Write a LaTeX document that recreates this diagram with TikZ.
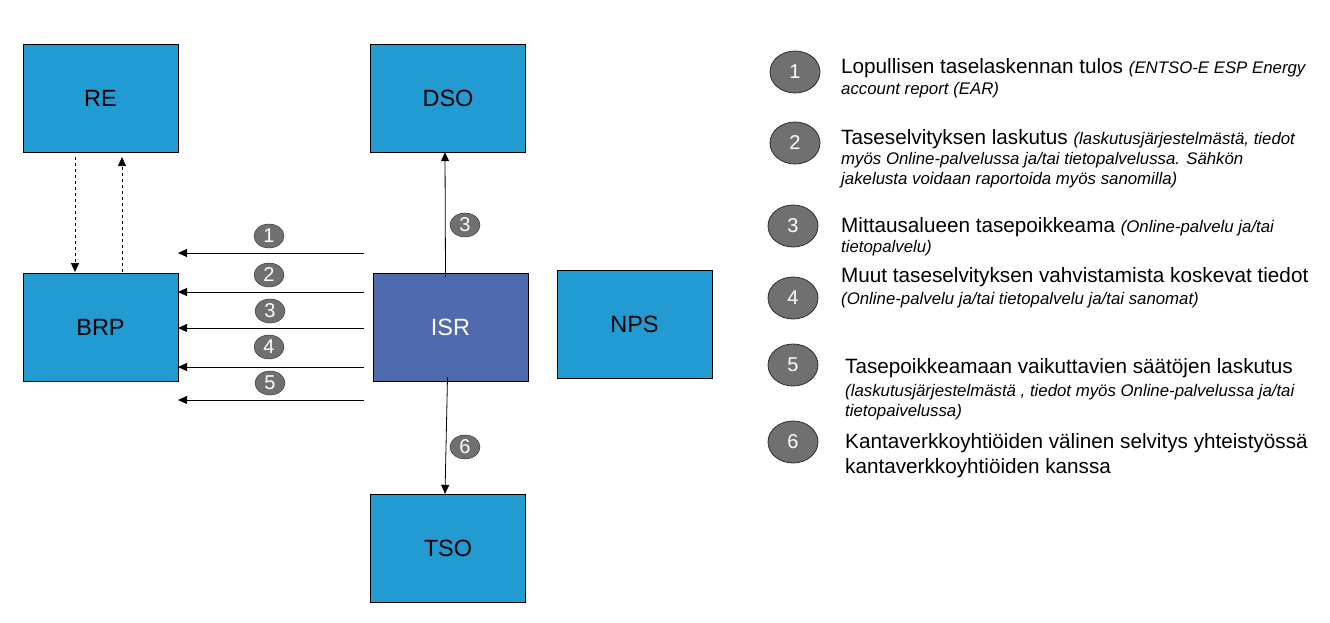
\documentclass[tikz,border=0pt]{standalone}
\usepackage{fontspec}
\setmainfont{Liberation Sans}
\usetikzlibrary{arrows.meta,shapes.geometric}
\definecolor{boxblue}{RGB}{33,155,210}
\definecolor{isrblue}{RGB}{80,106,176}
\definecolor{numgray}{RGB}{112,112,112}
\definecolor{numedge}{RGB}{45,45,45}
\tikzset{
  box/.style={draw=black, fill=boxblue, minimum width=155pt, minimum height=108pt, inner sep=0pt, font=\fontsize{23.5}{26}\selectfont},
  arr/.style={-{Triangle[width=8pt,length=9pt]}, line width=0.9pt},
  darr/.style={arr, dashed, line width=0.7pt},
  varr/.style={arr, line width=0.8pt},
  smallnum/.style={ellipse, draw=numedge, fill=numgray, minimum width=30pt, minimum height=24pt, inner sep=0pt, text=white, font=\fontsize{20}{20}\selectfont},
  bignum/.style={ellipse, draw=numedge, line width=0.8pt, fill=numgray, minimum width=50pt, minimum height=42pt, inner sep=0pt, text=white, font=\fontsize{20}{20}\selectfont},
  legend/.style={anchor=north west, align=left, inner sep=0pt, font=\fontsize{20.7}{25}\selectfont},
}
\newcommand{\smalli}[1]{{\itshape\fontsize{16.8}{20}\selectfont #1}}
\begin{document}
\begin{tikzpicture}[x=1pt,y=-1pt]
\useasboundingbox (0,0) rectangle (1330,622);
% boxes
\node[box] (RE) at (100.5,98) {RE};
\node[box] (DSO) at (448,98) {DSO};
\node[box] (BRP) at (100.5,327.5) {BRP};
\node[box, fill=isrblue, text=white] (ISR) at (450.5,327) {ISR};
\node[box] (NPS) at (634.5,324.5) {NPS};
\node[box] (TSO) at (448,548) {TSO};
% dashed arrows RE <-> BRP
\coordinate (d1s) at (75,157);
\coordinate (d1e) at (75,272);
\coordinate (d2s) at (122,272);
\coordinate (d2e) at (122,157);
\draw[darr] (d1s) -- (d1e);
\draw[darr] (d2s) -- (d2e);
% horizontal arrows ISR -> BRP
\foreach \i/\y in {1/253,2/292,3/328,4/367,5/400}{
  \coordinate (h\i s) at (364,\y);
  \coordinate (h\i e) at (178,\y);
  \draw[arr] (h\i s) -- (h\i e);
}
\node[smallnum] (n1) at (269,236) {1};
\node[smallnum] (n2) at (269,275) {2};
\node[smallnum] (n3) at (270,311) {3};
\node[smallnum] (n4) at (269,347) {4};
\node[smallnum] (n5) at (270,383) {5};
% vertical arrows
\draw[varr] ([xshift=-5pt,yshift=-4pt]ISR.north) -- ([xshift=-3pt]DSO.south);
\node[smallnum] (n3b) at (465,225) {3};
\draw[varr] ([xshift=-3pt,yshift=4pt]ISR.south) -- ([xshift=-3pt]TSO.north);
\node[smallnum] (n6) at (465,447) {6};
% legend
\node[bignum] (L1) at (795,72) {1};
\node[bignum] (L2) at (795,143) {2};
\node[bignum] (L3) at (793,226) {3};
\node[bignum] (L4) at (793,298) {4};
\node[bignum] (L5) at (793,365) {5};
\node[bignum] (L6) at (793,442) {6};
\node[legend] (T1) at (841,58.5) {Lopullisen taselaskennan tulos \smalli{(ENTSO-E ESP Energy}\\[-4pt]\smalli{account report (EAR)}};
\node[legend] (T2) at (841,129.5) {Taseselvityksen laskutus \smalli{(laskutusjärjestelmästä, tiedot}\\[-5pt]\smalli{myös Online-palvelussa ja/tai tietopalvelussa. Sähkön}\\[-5pt]\smalli{jakelusta voidaan raportoida myös sanomilla)}};
\node[legend] (T3) at (841,217.5) {Mittausalueen tasepoikkeama \smalli{(Online-palvelu ja/tai}\\[-5pt]\smalli{tietopalvelu)}};
\node[legend] (T4) at (841,267.5) {Muut taseselvityksen vahvistamista koskevat tiedot\\[-3pt]\smalli{(Online-palvelu ja/tai tietopalvelu ja/tai sanomat)}};
\node[legend] (T5) at (845,358.5) {Tasepoikkeamaan vaikuttavien säätöjen laskutus\\[-2pt]\smalli{(laskutusjärjestelmästä , tiedot myös Online-palvelussa ja/tai}\\[-5pt]\smalli{tietopaivelussa)}};
\node[legend] (T6) at (845,433.5) {Kantaverkkoyhtiöiden välinen selvitys yhteistyössä\\kantaverkkoyhtiöiden kanssa};
\end{tikzpicture}
\end{document}
